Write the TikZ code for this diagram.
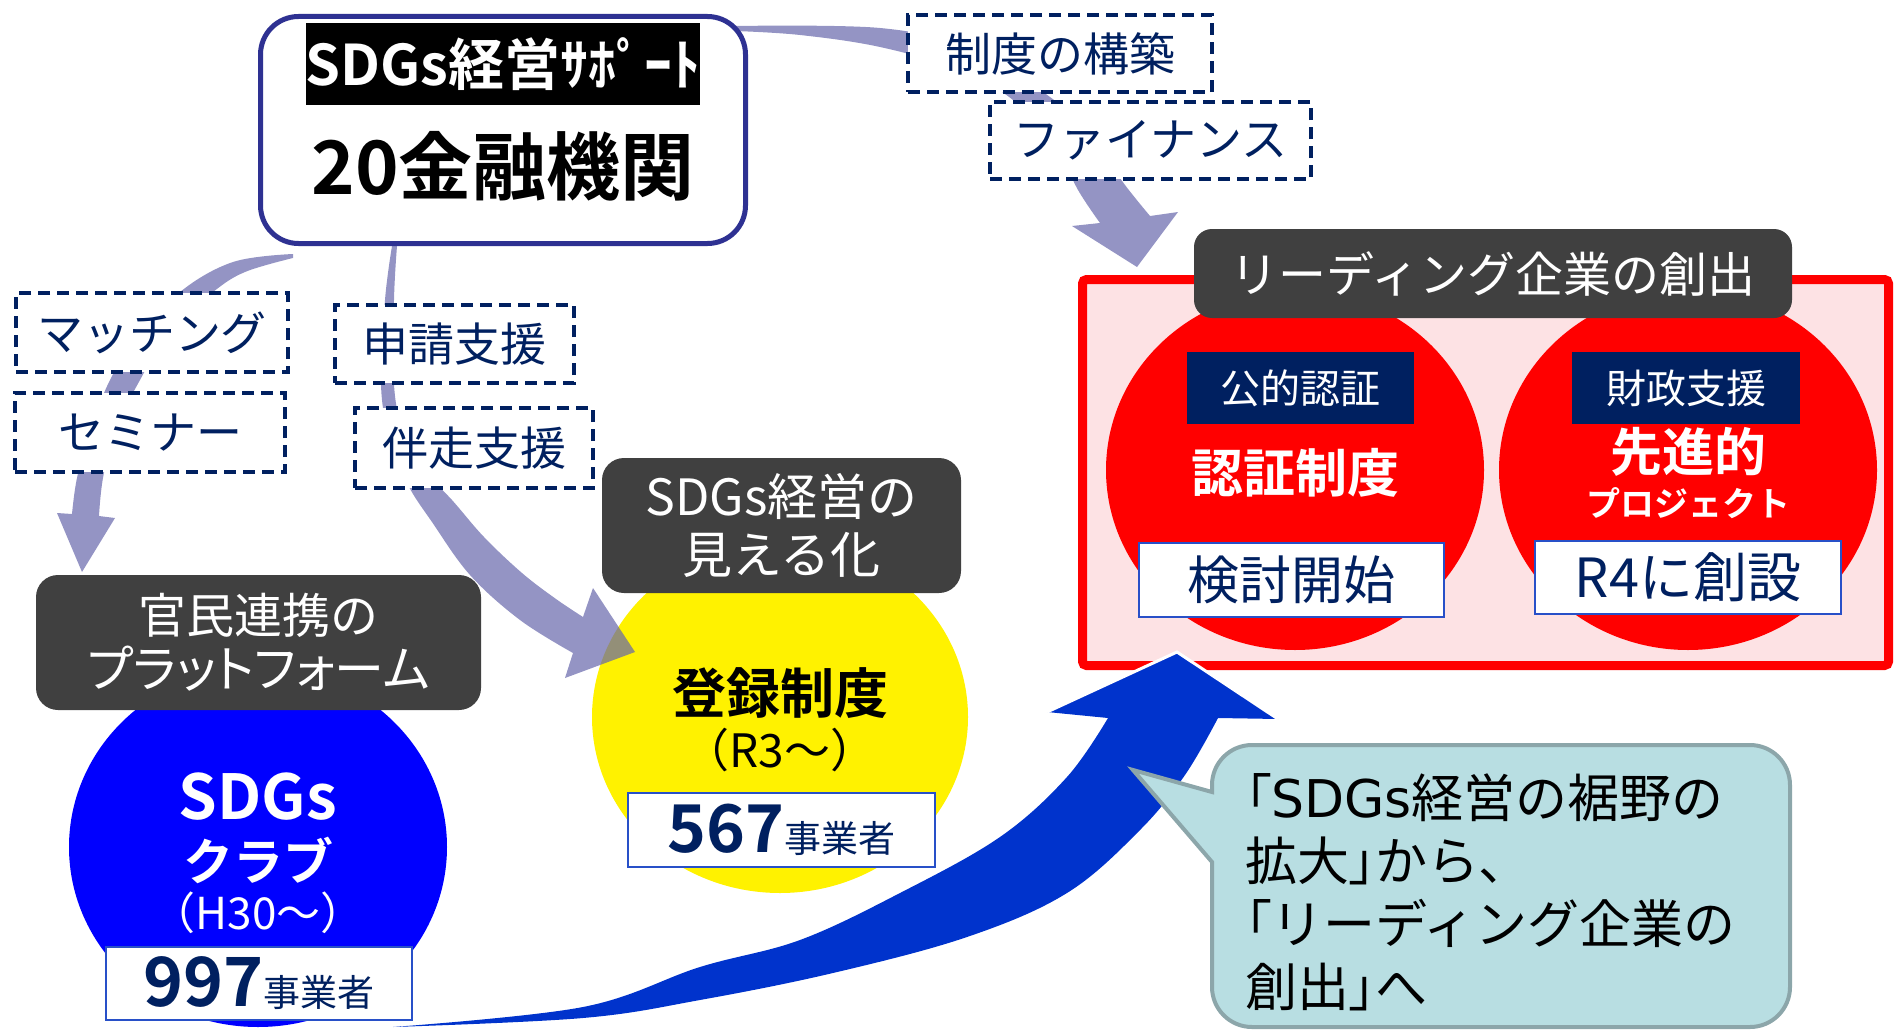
\documentclass[tikz,border=0pt]{standalone}
\usepackage{fontspec}
\setmainfont{Noto Sans CJK JP}[BoldFont={Noto Sans CJK JP Bold}]
\newfontfamily\paltfont{Noto Sans CJK JP}[RawFeature=+palt]
\newfontfamily\widelat{DejaVu Sans}
\usetikzlibrary{shapes.geometric}
\definecolor{navy}{RGB}{0,32,96}
\definecolor{boxblue}{RGB}{46,49,146}
\definecolor{darkgrey}{RGB}{64,64,64}
\definecolor{parr}{RGB}{102,102,171}
\definecolor{barr}{RGB}{0,51,204}
\definecolor{pinkbg}{RGB}{253,226,228}
\definecolor{bubfill}{RGB}{184,222,226}
\definecolor{bubline}{RGB}{140,166,170}
\definecolor{wbline}{RGB}{40,80,200}
\newcommand\myfs[1]{\fontsize{#1}{#1}\selectfont}
\newcommand\pp[1]{{\paltfont #1}}
\begin{document}
\begin{tikzpicture}[x=1pt,y=-1pt,
  dbox/.style={draw=navy, line width=3.5pt, dash pattern=on 12pt off 7pt, fill=white, text=navy, font=\myfs{46}, inner sep=0pt},
  darkbox/.style={fill=darkgrey, rounded corners=22pt, text=white, align=center, inner sep=0pt},
  wbox/.style={draw=wbline, line width=2pt, fill=white, inner sep=0pt, text=navy},
  nbox/.style={fill=navy, text=white, inner sep=0pt, font=\myfs{40}},
  blob/.style={ellipse, inner sep=0pt},
  parrow/.style={fill=parr, fill opacity=0.7},
  barrow/.style={fill=barr},
  lbl/.style={inner sep=0pt, align=center}]
\useasboundingbox (0,0) rectangle (1898,1033);
% circles
\node[blob, fill=blue, minimum width=378pt, minimum height=360pt] (club) at (258,847) {};
\node[blob, fill=yellow, minimum width=376pt, minimum height=352pt] (reg) at (780,717) {};
% purple arrows
\coordinate (tipL) at (82,572);
\coordinate (tipM) at (635,652);
\coordinate (tipR) at (1137,267);
\fill[parrow] plot[smooth, tension=0.6] coordinates {(293,254) (233,262) (180,292) (135,340) (110,380) (90,430) (77,478) (72,514)}
  -- (57,513) -- (tipL) -- (115,518) -- (99,516)
  -- plot[smooth, tension=0.6] coordinates {(99,516) (103,478) (115,430) (140,380) (170,330) (213,292) (245,272) (293,258)} -- cycle;
\fill[parrow] plot[smooth, tension=0.6] coordinates {(397,246) (394,300) (394,385) (403,430) (422,468) (452,500) (484,537) (522,573) (556,599) (583,617)}
  -- (593,588) -- (tipM) -- (565,678) -- (573,653)
  -- plot[smooth, tension=0.6] coordinates {(573,653) (520,620) (470,575) (432,522) (408,485) (390,440) (381,385) (385,300) (392,246)} -- cycle;
\fill[parrow] plot[smooth, tension=0.6] coordinates {(735,26) (880,28) (965,48) (1050,97) (1095,143) (1125,185) (1150,216)}
  -- (1178,212) -- (tipR) -- (1072,226) -- (1100,223)
  -- plot[smooth, tension=0.6] coordinates {(1100,223) (1078,190) (1055,145) (1013,100) (960,70) (880,47) (800,35) (735,31)} -- cycle;
% top box
\node[draw=boxblue, line width=5pt, fill=white, rounded corners=38pt, minimum width=485pt, minimum height=227pt, inner sep=0pt] (top) at (503,130) {};
\node[lbl, fill=black, text=white, font=\bfseries\myfs{56}, minimum width=390pt, minimum height=82pt] (sup) at (503,64) {SDGs経営ｻﾎﾟｰﾄ};
\node[lbl, font=\bfseries\myfs{74}] (n20) at (503,166) {20金融機関};
% dashed boxes
\node[dbox, minimum width=304pt, minimum height=77pt] (seido) at (1060,53.5) {制度の構築};
\node[dbox, minimum width=321pt, minimum height=77pt] (fin) at (1150.5,140.5) {ファイナンス};
\node[dbox, minimum width=272pt, minimum height=79pt] (match) at (152,332.5) {マッチング};
\node[dbox, minimum width=270pt, minimum height=79pt] (semi) at (150,432.5) {セミナー};
\node[dbox, minimum width=239pt, minimum height=78pt] (shin) at (454.5,344) {申請支援};
\node[dbox, minimum width=238pt, minimum height=80pt] (ban) at (474,448) {伴走支援};
% dark boxes
\node[darkbox, minimum width=445pt, minimum height=135pt, font=\fontsize{48}{54}\selectfont] (plat) at (258.5,642.5) {官民連携の\\{\paltfont\fontsize{50}{54}\selectfont プラットフォーム}};
\node[darkbox, minimum width=359pt, minimum height=135pt, font=\fontsize{50}{58}\selectfont] (mieru) at (781.5,525.5) {SDGs経営の\\見える化};
% circle texts
\node[lbl, text=white, font=\bfseries\myfs{62}] (t1) at (258,797) {SDGs};
\node[lbl, text=white, font=\bfseries\myfs{50}] (t2) at (258,860) {クラブ};
\node[lbl, text=white, font=\myfs{44}] (t3) at (258,913) {（H30～）};
\node[wbox, minimum width=306pt, minimum height=73pt] (n997) at (259,983.5) {{\bfseries\myfs{68}997}{\myfs{37}事業者}};
\node[lbl, font=\bfseries\myfs{54}] (t4) at (780,693) {登録制度};
\node[lbl, font=\myfs{46}] (t5) at (780,750) {（R3～）};
\node[wbox, minimum width=307pt, minimum height=74pt] (n567) at (781.5,830) {{\bfseries\myfs{66}567}{\myfs{37}事業者}};
% leading companies
\node[draw=red, line width=9pt, fill=pinkbg, minimum width=806pt, minimum height=386pt, rounded corners=4pt, inner sep=0pt] (lead) at (1485.5,472.5) {};
\node[blob, fill=red, minimum width=378pt, minimum height=360pt] (cert) at (1295,470) {};
\node[blob, fill=red, minimum width=378pt, minimum height=360pt] (proj) at (1688,470) {};
\node[darkbox, rounded corners=18pt, minimum width=598pt, minimum height=89pt, font=\myfs{48}] (leadt) at (1493,273.5) {リーディング企業の創出};
\node[nbox, minimum width=227pt, minimum height=72pt] (kou) at (1300.5,388) {公的認証};
\node[nbox, minimum width=228pt, minimum height=72pt] (zai) at (1686,388) {財政支援};
\node[lbl, text=white, font=\bfseries\myfs{52}] (t6) at (1295,473) {認証制度};
\node[lbl, text=white, font=\bfseries\myfs{52}] (t7) at (1688,452) {先進的};
\node[lbl, text=white, font=\bfseries\myfs{34}] (t8) at (1688,503) {プロジェクト};
\node[wbox, minimum width=305pt, minimum height=74pt, font=\myfs{52}] (kentou) at (1291.5,580) {検討開始};
\node[wbox, minimum width=306pt, minimum height=73pt, font=\myfs{54}] (r4) at (1688,577.5) {R4に創設};
% blue arrow
\coordinate (btip) at (1177,652);
\fill[barrow] plot[smooth, tension=0.6] coordinates {(393,1027) (583,1007) (700,967) (800,940) (900,893) (1000,837) (1067,777) (1108,718)}
  -- (1047,712) -- (btip) -- (1278,719) -- (1218,718)
  -- plot[smooth, tension=0.6] coordinates {(1218,718) (1185,775) (1140,830) (1067,893) (967,937) (833,973) (700,1000) (583,1018) (393,1027)} -- cycle;
\draw[white, line width=3pt, line join=miter] (1047,712) -- (btip) -- (1278,719);
% bubble
\coordinate (btail) at (1133,770);
\draw[fill=bubfill, draw=bubline, line width=4pt] (1212,792) [rounded corners=40pt] -- (1212,745) -- (1790,745) -- (1790,1027) -- (1212,1027) [sharp corners] -- (1212,862) -- (btail) -- cycle;
\node[inner sep=0pt, align=left, anchor=west, font=\fontsize{52}{63}\selectfont] (msg) at (1245,892) {\pp{「}{\widelat SDGs}経営の裾野の\\拡大\pp{」}から\pp{、}\\\pp{「}リーディング企業の\\創出\pp{」}へ};
\end{tikzpicture}
\end{document}
